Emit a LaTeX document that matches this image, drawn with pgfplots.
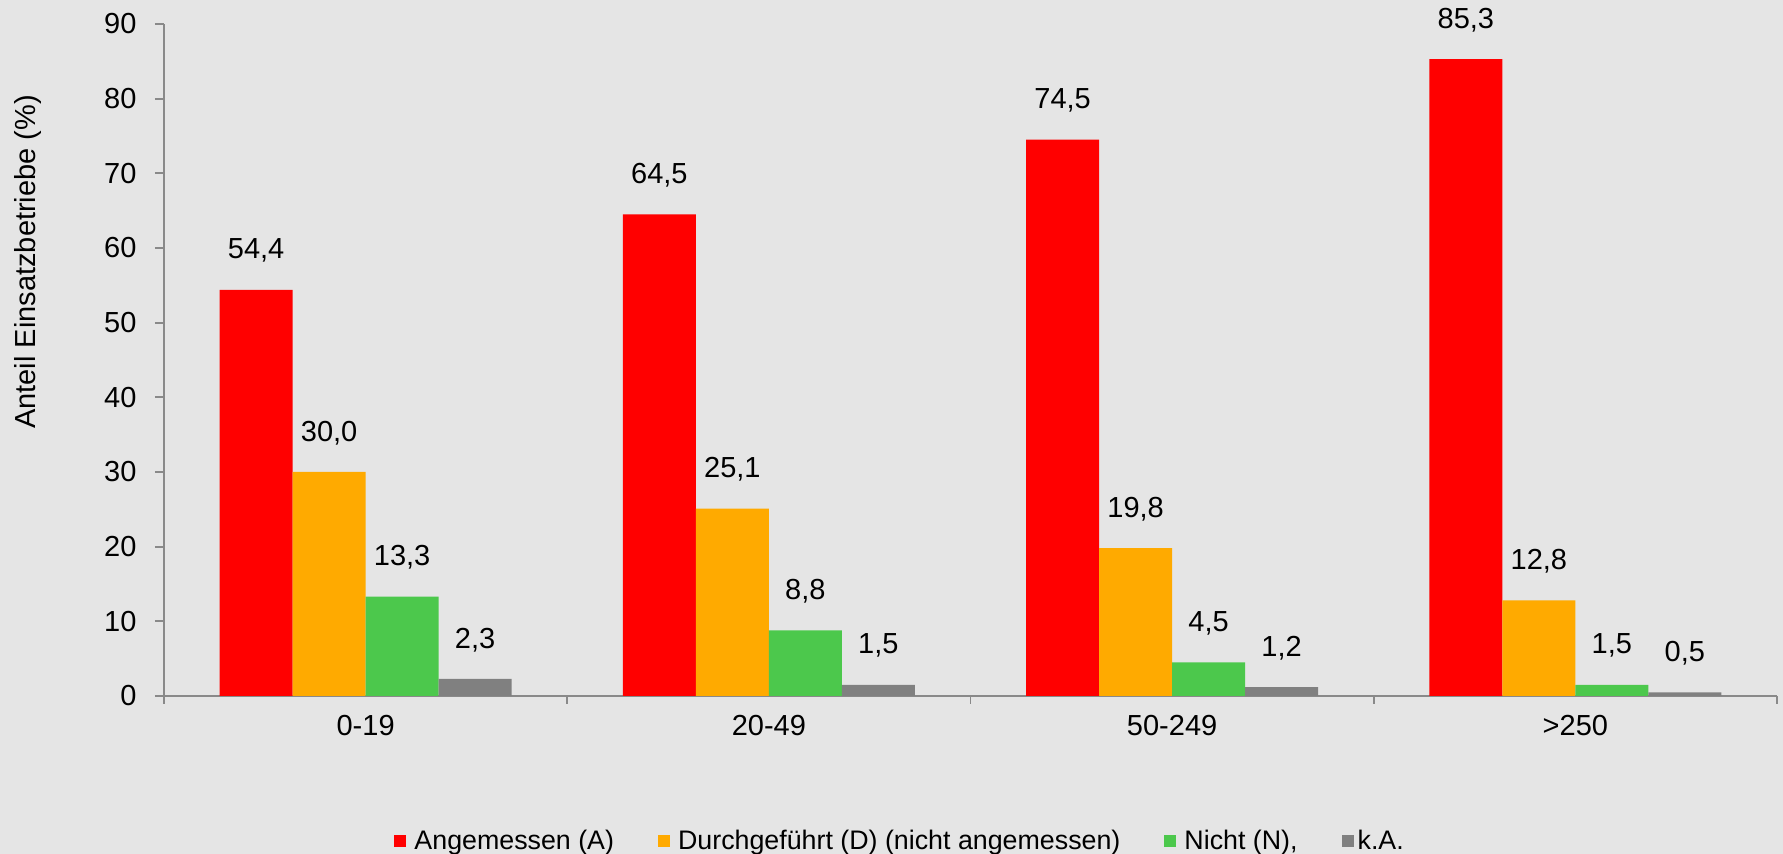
\documentclass[border=0pt]{standalone}
\usepackage{fontspec}
\setmainfont{Liberation Sans}
\usepackage{pgfplots}
\usepackage{pgfplotstable}
\pgfplotsset{compat=1.18}
\definecolor{cA}{RGB}{255,0,0}
\definecolor{cD}{RGB}{255,170,0}
\definecolor{cN}{RGB}{76,200,76}
\definecolor{cK}{RGB}{128,128,128}
\definecolor{bg}{RGB}{229,229,229}
\definecolor{axc}{RGB}{137,137,137}
\pgfplotstableread{
x A D N K
0 54.4 30.0 13.3 2.3
1 64.5 25.1 8.8 1.5
2 74.5 19.8 4.5 1.2
3 85.3 12.8 1.5 0.5
}\data
\begin{document}
\fontsize{14.5}{17}\selectfont
\begin{tikzpicture}
\fill[bg] (-82pt,-79pt) rectangle (809.5pt,348pt);
\begin{axis}[
  at={(0,0)}, anchor=south west,
  scale only axis, width=806.5pt, height=336pt,
  xmin=-0.5, xmax=3.5, ymin=0, ymax=90,
  enlargelimits=false, clip=false,
  ybar=0pt, bar width=0.181,
  axis lines*=left,
  axis line style={draw=axc, line width=0.9pt},
  tick style={draw=axc, line width=0.9pt},
  tick align=outside,
  major tick length=4.5pt, minor tick length=4pt,
  xtick={0,1,2,3},
  xticklabels={0-19,20-49,50-249,>250},
  minor xtick={-0.5,0.5,1.5,2.5,3.5},
  major x tick style={draw=none},
  ytick={0,10,...,90},
  /pgf/number format/assume math mode=true,
  xticklabel style={anchor=center, yshift=-10.4pt},
  yticklabel style={xshift=-4.25pt},
  ylabel={Anteil Einsatzbetriebe (\%)},
  ylabel style={at={(axis description cs:-0.0846,0.646)}, anchor=center},
  nodes near coords={\pgfmathprintnumber[fixed,fixed zerofill,precision=1,use comma]{\pgfplotspointmeta}},
  every node near coord/.append style={anchor=center, yshift=19.5pt, text=black},
  legend style={at={(axis description cs:0.457,-0.2165)}, anchor=center,
    draw=none, fill=none, legend columns=4, font=\fontsize{13.4}{16}\selectfont,
    /tikz/every even column/.append style={column sep=20pt}},
  legend image code/.code={\fill[#1] (0pt,-3pt) rectangle (6pt,3pt);},
]
\addplot[fill=cA, draw=none] table[x=x,y=A]{\data};
\addlegendentry{\hspace{2pt}Angemessen (A)}
\addplot[fill=cD, draw=none] table[x=x,y=D]{\data};
\addlegendentry{\hspace{2pt}Durchgeführt (D) (nicht angemessen)}
\addplot[fill=cN, draw=none] table[x=x,y=N]{\data};
\addlegendentry{\hspace{2pt}Nicht (N),}
\addplot[fill=cK, draw=none] table[x=x,y=K]{\data};
\addlegendentry{k.A.}
\end{axis}
\pgfresetboundingbox
\path[use as bounding box] (-82pt,-79pt) rectangle (809.5pt,348pt);
\end{tikzpicture}
\end{document}
